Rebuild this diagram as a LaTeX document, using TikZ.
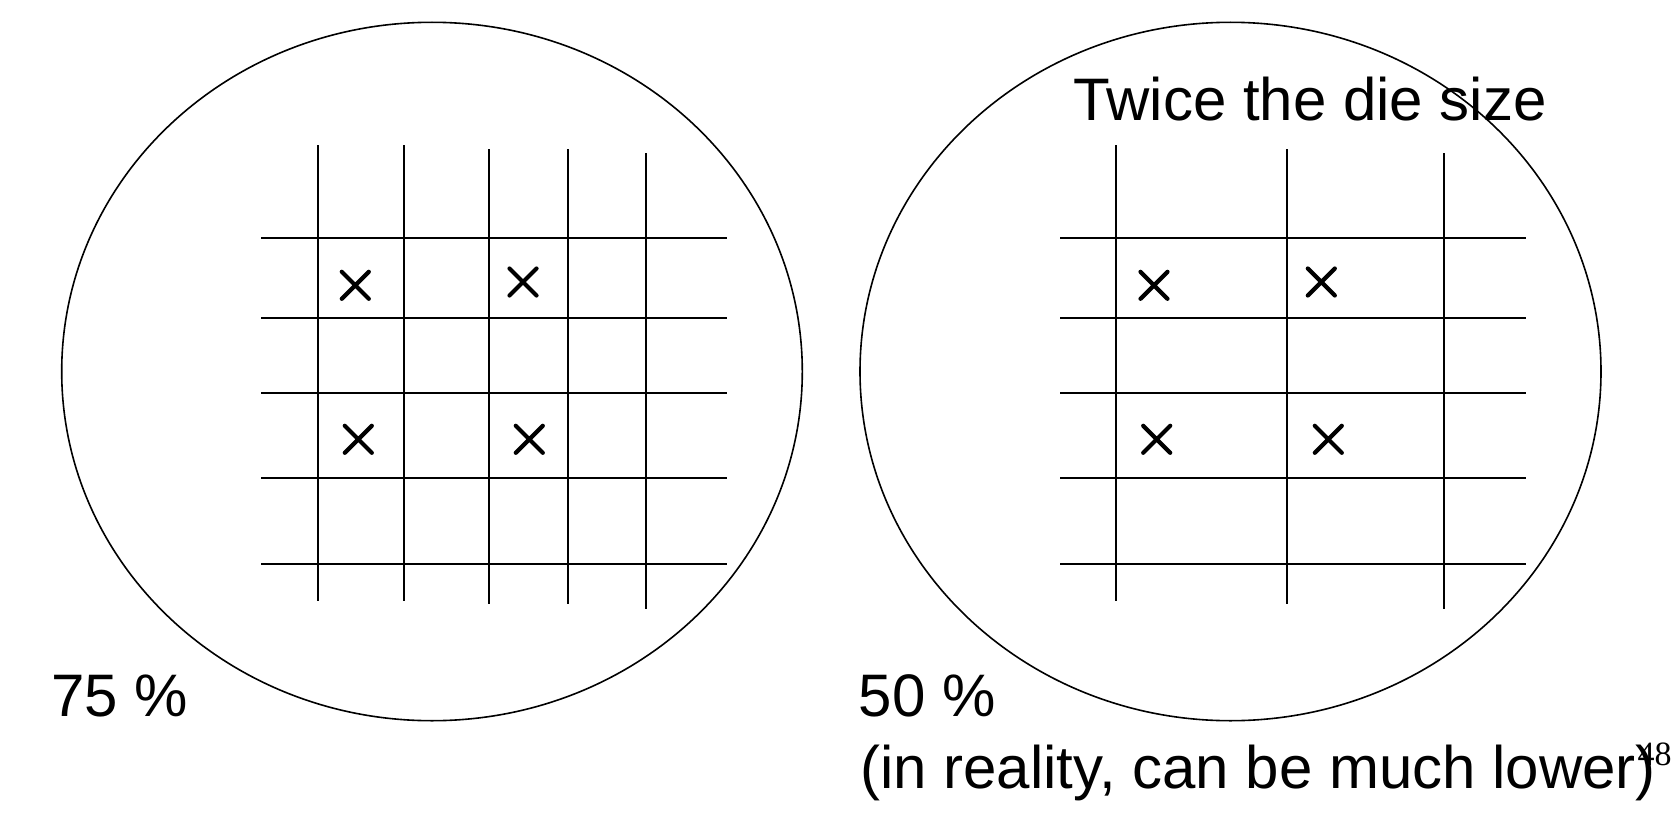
\documentclass[tikz,border=0pt]{standalone}
\usepackage{fontspec}
\setmainfont{Liberation Sans}
\newfontfamily\pgnumfont{Liberation Serif}
\begin{document}
\begin{tikzpicture}[x=1pt,y=-1pt,
  wafer/.style={line width=1.6pt},
  gridline/.style={line width=1.8pt},
  defect/.style={line width=4.2pt,line cap=round},
  bigtext/.style={font=\fontsize{60}{72}\selectfont,inner sep=0pt,anchor=base west},
  pgnum/.style={font=\pgnumfont\fontsize{34}{40}\selectfont,inner sep=0pt,anchor=base west}]
\useasboundingbox (0,0) rectangle (1676,816);
% wafers
\draw[wafer] (432,371.5) ellipse [x radius=370.3, y radius=349.2];
\draw[wafer] (1230.5,371.5) ellipse [x radius=370.5, y radius=349.2];
% left grid
\foreach \yy in {238.3,318.3,393,478.3,564}
  \draw[gridline] (261,\yy) -- (726.7,\yy);
\draw[gridline] (317.7,145) -- (317.7,600.7);
\draw[gridline] (403.7,145) -- (403.7,600.7);
\draw[gridline] (489,149) -- (489,604);
\draw[gridline] (568,149) -- (568,604);
\draw[gridline] (646,153) -- (646,609);
% right grid
\foreach \yy in {238.3,318.3,393,478.3,564}
  \draw[gridline] (1060,\yy) -- (1525.7,\yy);
\draw[gridline] (1116.3,145) -- (1116.3,600.7);
\draw[gridline] (1287.3,149) -- (1287.3,604);
\draw[gridline] (1444.3,153) -- (1444.3,609);
% defects
\foreach \cx/\cy in {355.3/285.3, 523/282, 358.3/439.3, 529.3/439.3,
                     1154/285.3, 1321.3/282, 1156.7/439.3, 1328.3/439.3}
  \draw[defect] (\cx-13.5,\cy-13.5) -- (\cx+13.5,\cy+13.5) (\cx-13.5,\cy+13.5) -- (\cx+13.5,\cy-13.5);
% texts
\node[bigtext] (t75) at (51,716.5) {75 \%};
\node[bigtext] (t50) at (858.5,716.5) {50 \%};
\node[bigtext] (treal) at (860,788.5) {(in reality, can be much lower)};
\node[bigtext] (ttwice) at (1073,121) {Twice the die size};
\node[pgnum] (pg) at (1637.5,765) {48};
\end{tikzpicture}
\end{document}
